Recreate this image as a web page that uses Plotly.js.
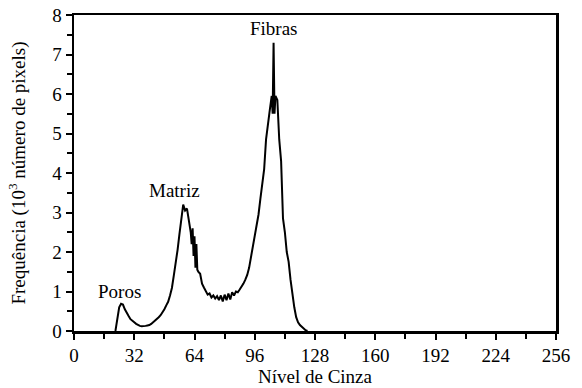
<!DOCTYPE html>
<html>
<head>
<meta charset="utf-8">
<script src="https://cdn.plot.ly/plotly-3.0.1.min.js"></script>
</head>
<body style="margin:0">
<div id="chart"></div>
<div style="position:absolute;left:0;top:420px;font-family:'Liberation Serif';font-size:19px;color:#fff">Fibras Matriz Poros Nível de Cinza 0123456789</div>
<script>
const grayLevel = [22,23,24,25,26,27,28,29,30,31,32,33,34,35,36,37,38,39,40,41,42,43,44,45,46,47,48,49,
  50,51,52,53,54,55,56,57,58,59,60,61,62,62.5,63,63.5,64,64.5,65,65.5,66,67,68,69,70,71,72,73,74,75,76,77,78,79,
  80,81,82,83,84,85,86,87,88,89,90,91,92,93,94,95,96,97,98,99,100,101,102,103,104,105,105.5,106,106.5,
  107,108,109,110,111,112,113,114,115,116,117,118,119,120,121,122,123,124];
const frequency = [0,0.3,0.6,0.69,0.67,0.55,0.45,0.38,0.3,0.25,0.22,0.18,0.15,0.13,0.12,0.12,0.13,0.14,0.15,0.18,0.22,0.25,0.3,0.35,0.4,0.46,0.55,0.65,
  0.74,0.9,1.09,1.4,1.7,2.05,2.45,2.85,3.2,3.05,3.1,2.8,2.5,2.2,2.6,1.9,2.4,1.6,2.2,1.55,1.5,1.45,1.2,1.1,1.0,0.92,0.95,0.85,0.9,0.82,0.88,0.78,0.9,0.75,
  0.92,0.78,0.95,0.8,0.98,0.9,1.0,0.98,1.05,1.12,1.2,1.3,1.42,1.6,1.85,2.1,2.4,2.7,2.95,3.35,3.7,4.1,4.85,5.3,5.6,5.95,5.5,7.3,5.5,
  5.95,5.85,4.85,4.3,2.85,2.5,2.0,1.75,1.3,0.9,0.6,0.35,0.22,0.15,0.1,0.05,0.02,0];
const xTicks = [0,32,64,96,128,160,192,224,256];
const yTicks = [0,1,2,3,4,5,6,7,8];
const labels = ["Poros","Matriz","Fibras"];
const labelX = [24,53.6,106.2];
const labelY = [0.99,3.55,7.66];

const trace = {
  x: grayLevel, y: frequency, type: 'scatter', mode: 'lines',
  line: {color: '#000', width: 2}, hoverinfo: 'skip'
};
const layout = {
  width: 582, height: 388,
  margin: {l: 74, r: 26, t: 15, b: 57},
  paper_bgcolor: '#fff', plot_bgcolor: '#fff',
  showlegend: false,
  xaxis: {
    range: [0, 256], tickvals: xTicks, ticktext: xTicks.map(String),
    ticks: 'outside', ticklen: 6, tickwidth: 2, tickcolor: '#000',
    minor: {ticks: 'outside', dtick: 16, tick0: 0, ticklen: 5, tickwidth: 2, tickcolor: '#000', showgrid: false},
    showline: true, linewidth: 2.5, linecolor: '#000', mirror: true,
    showgrid: false, zeroline: false,
    tickfont: {family: 'Liberation Serif', size: 19, color: '#000'},
    title: {text: 'Nível de Cinza', font: {family: 'Liberation Serif', size: 19, color: '#000'}, standoff: 4}
  },
  yaxis: {
    range: [0, 8], tickvals: yTicks, ticktext: yTicks.map(String),
    ticks: 'outside', ticklen: 6, tickwidth: 2, tickcolor: '#000',
    minor: {ticks: 'outside', dtick: 0.5, tick0: 0, ticklen: 5, tickwidth: 2, tickcolor: '#000', showgrid: false},
    showline: true, linewidth: 2.5, linecolor: '#000', mirror: true,
    showgrid: false, zeroline: false,
    tickfont: {family: 'Liberation Serif', size: 19, color: '#000'},
    title: {text: 'Frequência (10<sup>3</sup> número de pixels)', font: {family: 'Liberation Serif', size: 19, color: '#000'}, standoff: 22}
  },
  annotations: labels.map((t, i) => ({
    x: labelX[i], y: labelY[i], xref: 'x', yref: 'y', text: t, showarrow: false,
    font: {family: 'Liberation Serif', size: 19, color: '#000'}
  }))
};
Plotly.newPlot('chart', [trace], layout, {staticPlot: true}).then(() => {
  if (document.fonts && document.fonts.load) {
    document.fonts.load('19px "Liberation Serif"').then(() => Plotly.redraw('chart'));
  }
});
</script>
</body>
</html>
